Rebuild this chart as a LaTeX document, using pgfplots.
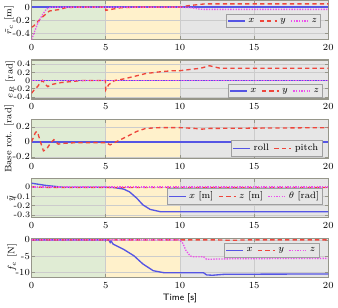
\documentclass[border=0pt]{standalone}
\usepackage{pgfplots}
\pgfplotsset{compat=1.18}
\usetikzlibrary{calc}
\definecolor{cgreen}{RGB}{224,236,212}
\definecolor{cyellow}{RGB}{255,241,203}
\definecolor{cgrey}{RGB}{230,230,230}
\definecolor{cframe}{RGB}{150,150,138}
\definecolor{cblue}{RGB}{85,85,228}
\definecolor{cred}{RGB}{238,70,60}
\definecolor{cmag}{RGB}{236,80,236}
\pgfplotsset{
  common/.style={
    width=222.75pt, height=29.25pt, scale only axis,
    xmin=0, xmax=20, xtick={0,5,10,15,20},
    axis background/.style={path picture={
      \coordinate (SW) at (path picture bounding box.south west);
      \coordinate (NW) at (path picture bounding box.north west);
      \coordinate (SE) at (path picture bounding box.south east);
      \coordinate (NE) at (path picture bounding box.north east);
      \fill[cgreen] (SW) rectangle ($(NW)!0.25!(NE)$);
      \fill[cyellow] ($(SW)!0.25!(SE)$) rectangle ($(NW)!0.5!(NE)$);
      \fill[cgrey] ($(SW)!0.5!(SE)$) rectangle (NE);
    }},
    grid=major, major grid style={black!20,line width=0.4pt},
    axis line style={cframe,line width=0.9pt},
    tick style={cframe,line width=0.5pt}, tick align=inside,
    major tick length=2.5pt,
    tick label style={font=\scriptsize},
    yticklabel style={inner sep=0.6pt, xshift=-0.5pt},
    label style={font=\scriptsize},
    /pgf/number format/assume math mode=true,
    /pgf/number format/fixed,
    legend style={font=\scriptsize, fill=cgrey, draw=gray!75, line width=0.6pt,
      inner sep=0.8pt, row sep=-1pt, /tikz/every even column/.append style={column sep=1.5pt}},
    legend cell align=left,
    legend image code/.code={\draw[##1] (0cm,0cm) -- (0.45cm,0cm);},
    ylabel shift=-5pt,
  },
  sx/.style={cblue, line width=1pt},
  sy/.style={cred, line width=1pt, dash pattern=on 3.2pt off 2.4pt},
  sz/.style={cmag, line width=1pt, densely dotted},
}
\begin{document}
\begin{tikzpicture}
% Panel 1
\begin{axis}[common, at={(0,0)}, anchor=north west,
  ymin=-0.5, ymax=0.1, ytick={-0.4,-0.2,0},
  ylabel={$\tilde{r}_c$ [m]},
  legend columns=3,
  legend style={at={(rel axis cs:0.976,0.29)}, anchor=south east}]
\addplot[sx] coordinates {(0,0) (20,0)};
\addplot[sy] coordinates {(0,-0.31) (0.15,-0.29) (0.6,-0.18) (1.2,-0.06) (1.8,-0.04) (2.3,-0.01) (3,0) (4.98,0) (5.0,-0.05) (5.5,-0.03) (6,-0.01) (7,0) (10,0) (10.5,0.02) (11.3,0.04) (11.7,0.05) (20,0.05)};
\addplot[sz] coordinates {(0,-0.5) (0.4,-0.26) (0.7,-0.13) (1.0,-0.03) (1.3,0) (10,0) (10.8,-0.01) (11.3,-0.03) (11.6,-0.035) (20,-0.035)};
\legend{$x$,$y$,$z$}
\end{axis}
% Panel 2
\begin{axis}[common, at={(0,-44.6pt)}, anchor=north west,
  ymin=-0.45, ymax=0.5, ytick={-0.4,-0.2,0,0.2,0.4},
  yticklabel style={font=\fontsize{6.3}{6.3}\selectfont, inner sep=0.3pt},
  ylabel={$e_R$ [rad]},
  legend columns=3,
  legend style={at={(rel axis cs:0.983,0.02)}, anchor=south east}]
\addplot[sx] coordinates {(0,0) (20,0)};
\addplot[sy] coordinates {(0,-0.31) (0.2,-0.22) (0.4,-0.15) (0.5,-0.1) (0.75,0) (0.95,-0.1) (1.1,-0.15) (1.3,-0.1) (2,-0.05) (2.8,-0.02) (3.5,0) (4.98,0) (5.0,-0.23) (5.2,-0.1) (5.6,0) (6.1,0.03) (6.8,0.09) (7.7,0.17) (8.6,0.21) (9.5,0.24) (10,0.24) (10.7,0.27) (11.4,0.3) (12.0,0.36) (12.7,0.3) (20,0.3)};
\addplot[sz] coordinates {(0,0) (20,0)};
\legend{$x$,$y$,$z$}
\end{axis}
% Panel 3
\begin{axis}[common, at={(0,-89.2pt)}, anchor=north west,
  ymin=-0.22, ymax=0.3, ytick={-0.2,0,0.2},
  ylabel={Base rot. [rad]},
  legend columns=2,
  legend style={at={(rel axis cs:0.98,0.04)}, anchor=south east}]
\addplot[sx] coordinates {(0,0) (20,0)};
\addplot[sy] coordinates {(0,0) (0.25,0.12) (0.35,0.14) (0.45,0.1) (0.6,0) (0.8,-0.12) (1.0,-0.1) (1.3,-0.01) (1.5,0.03) (1.8,-0.03) (2.1,-0.02) (3,-0.01) (5,-0.01) (5.3,-0.04) (5.7,0) (6.4,0.07) (7.1,0.14) (7.7,0.18) (8.6,0.19) (10,0.19) (11,0.18) (11.5,0.17) (12,0.18) (20,0.19)};
\legend{roll,pitch}
\end{axis}
% Panel 4
\begin{axis}[common, at={(0,-133.8pt)}, anchor=north west,
  ymin=-0.33, ymax=0.09, ytick={-0.3,-0.2,-0.1,0},
  yticklabel style={font=\fontsize{6.3}{6.3}\selectfont, inner sep=0.3pt},
  ylabel={$\tilde{y}$},
  legend columns=3,
  legend style={at={(rel axis cs:0.983,0.33)}, anchor=south east}]
\addplot[sx] coordinates {(0,0.043) (1,0.018) (2.1,0) (5,0) (5.6,-0.005) (6.2,-0.02) (6.6,-0.05) (7.1,-0.12) (7.5,-0.19) (8.0,-0.24) (8.7,-0.265) (20,-0.265)};
\addplot[sy] coordinates {(0,0.005) (1,-0.004) (20,-0.004)};
\addplot[sz] coordinates {(0,0.003) (20,0.003)};
\legend{$x$ [m],$z$ [m],$\theta$ [rad]}
\end{axis}
% Panel 5
\begin{axis}[common, at={(0,-178.4pt)}, anchor=north west,
  ymin=-11.5, ymax=0.5, ytick={-10,-5,0},
  ylabel={$f_e$ [N]},
  xlabel={\sffamily Time [s]}, xlabel shift=-3pt,
  legend columns=3,
  legend style={at={(rel axis cs:0.97,0.87)}, anchor=north east}]
\addplot[sx] coordinates {(0,0) (5.2,0) (5.3,-0.8) (5.36,-0.3) (5.45,-1.0) (5.5,-1.3) (6.2,-2.9) (6.9,-4.9) (7.5,-7.4) (8.2,-9.5) (8.9,-10.1) (9.5,-10.15) (11.6,-10.15) (11.8,-10.8) (12.2,-10.9) (13,-10.6) (20,-10.5)};
\addplot[sy] coordinates {(0,0) (12.5,0) (13.5,-0.15) (14.5,0) (20,0)};
\addplot[sz] coordinates {(0,0) (10,0) (10.2,-1.1) (10.4,-3.2) (10.7,-5.0) (10.9,-5.2) (11.6,-5.2) (11.8,-6.0) (12.5,-5.9) (14,-5.8) (20,-5.7)};
\legend{$x$,$y$,$z$}
\end{axis}
\end{tikzpicture}
\end{document}
